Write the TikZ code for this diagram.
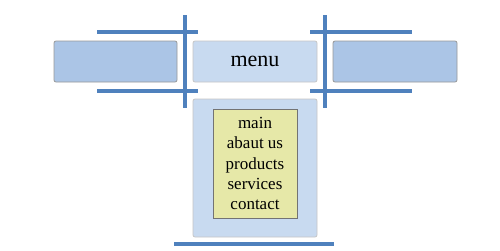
\documentclass[tikz,border=0pt]{standalone}
\usepackage{fontspec}
\setmainfont{Liberation Serif}
\begin{document}
\begin{tikzpicture}[x=1pt,y=-1pt,
  bar/.style={draw=barblue,line width=4pt},
  sidebox/.style={draw=gray!80,line width=0.8pt,fill=sideblue,rounded corners=2pt},
  menubox/.style={draw=gray!45,line width=0.8pt,fill=menublue,rounded corners=2pt},
  listbox/.style={draw=gray!90!black,line width=0.8pt,fill=listyellow}]
\definecolor{barblue}{HTML}{4F81BD}
\definecolor{sideblue}{HTML}{ABC5E6}
\definecolor{menublue}{HTML}{C8DAF0}
\definecolor{listyellow}{HTML}{E6E8A8}
\useasboundingbox (0,0) rectangle (500,250);
\fill[white] (0,0) rectangle (500,250);
% boxes
\draw[sidebox] (54,41) rectangle (177,82) coordinate (lbox);
\draw[sidebox] (333,41) rectangle (457,82) coordinate (rbox);
\draw[menubox] (193,41) rectangle (317,82);
\node[font=\fontsize{22}{24}\selectfont] (menu) at (255,61) {menu};
\draw[menubox] (193,99) rectangle (317,237);
\draw[listbox] (213,109) rectangle (297,218);
\node[font=\fontsize{17}{20.3}\selectfont,align=center] (list) at (255,163.5)
  {main\\abaut us\\products\\services\\contact};
% bars
\draw[bar] (97,31.5) -- (198,31.5);
\draw[bar] (97,91) -- (198,91);
\draw[bar] (185,15) -- (185,108);
\draw[bar] (310,31.5) -- (412,31.5);
\draw[bar] (310,91) -- (412,91);
\draw[bar] (325,15) -- (325,108);
\draw[bar] (174,244) -- (334,244);
\end{tikzpicture}
\end{document}
